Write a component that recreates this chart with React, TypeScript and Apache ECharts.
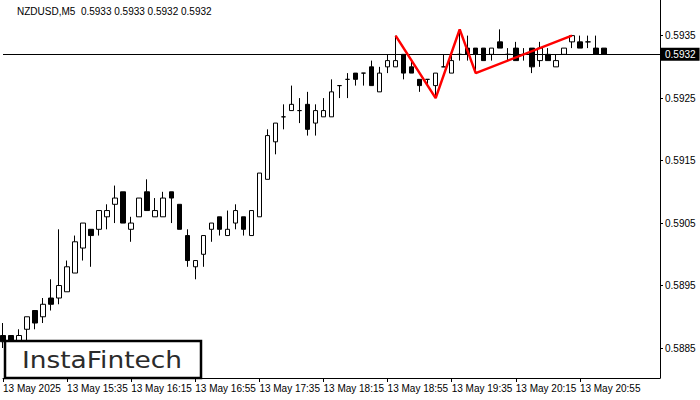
import React, { useEffect, useRef } from "react";
import * as echarts from "echarts";

const symbolTitle = "NZDUSD,M5  0.5933 0.5933 0.5932 0.5932";
const startHour = 14;
const startMinute = 55;
const slotCount = 83;
const lastLabelIndex = 72;
const dateLabel = "13 May 2025";
const dayPrefix = "13 May";

const opens = [0.5887,0.5887,0.5886,0.5888,0.5891,0.5890,0.5893,0.5893,0.5894,0.5897,
  0.5901,0.5904,0.5904,0.5906,0.5908,0.5910,0.5904,0.5906,0.5910,0.5906,
  0.5906,0.5910,0.5908,0.5903,0.5898,0.5900,0.5904,0.5906,0.5903,0.5905,
  0.5906,0.5903,0.5906,0.5912,0.5918,0.5922,0.5923,0.5923,0.5924,0.5921,
  0.5922,0.5922,0.5927,0.5928,0.5929,0.5929,0.5930,0.5926,0.5930,0.5930,
  0.5932,0.5930,0.5928,0.5928,0.5927,0.5930,0.5929,0.5932,0.5933,0.5933,
  0.5933,0.5932,0.5934,0.5932,0.5933,0.5932,0.5933,0.5931,0.5932,0.5930,
  0.5932,0.5934,0.5934,0.5934,0.5933,0.5933];
const closes = [0.5886,0.5886,0.5887,0.5890,0.5889,0.5892,0.5892,0.5895,0.5898,0.5902,
  0.5905,0.5903,0.5907,0.5907,0.5909,0.5905,0.5905,0.5909,0.5907,0.5907,
  0.5909,0.5909,0.5904,0.5899,0.5899,0.5903,0.5905,0.5904,0.5904,0.5907,
  0.5904,0.5907,0.5913,0.5919,0.5921,0.5922,0.5924,0.5923,0.5920,0.5923,
  0.5923,0.5926,0.5927,0.5928,0.5928,0.5929,0.5927,0.5929,0.5931,0.5931,
  0.5929,0.5929,0.5927,0.5928,0.5929,0.5930,0.5931,0.5932,0.5932,0.5932,
  0.5931,0.5933,0.5933,0.5932,0.5931,0.5932,0.5930,0.5933,0.5931,0.5931,
  0.5933,0.5935,0.5933,0.5934,0.5932,0.5932];
const highs = [0.5889,0.5887,0.5888,0.5890,0.5891,0.5893,0.5896,0.5904,0.5899,0.5903,
  0.5905,0.5904,0.5907,0.5908,0.5911,0.5910,0.5906,0.5909,0.5912,0.5909,
  0.5910,0.5910,0.5908,0.5904,0.5899,0.5903,0.5905,0.5906,0.5907,0.5908,
  0.5906,0.5907,0.5913,0.5920,0.5921,0.5924,0.5927,0.5925,0.5926,0.5924,
  0.5925,0.5928,0.5927,0.5929,0.5929,0.5929,0.5931,0.5930,0.5932,0.5935,
  0.5932,0.5931,0.5928,0.5928,0.5929,0.5932,0.5932,0.5936,0.5935,0.5933,
  0.5933,0.5933,0.5936,0.5933,0.5934,0.5933,0.5933,0.5934,0.5933,0.5932,
  0.5933,0.5935,0.5935,0.5935,0.5935,0.5933];
const lows = [0.5885,0.5886,0.5886,0.5886,0.5888,0.5889,0.5891,0.5892,0.5894,0.5897,
  0.5899,0.5898,0.5903,0.5904,0.5905,0.5905,0.5902,0.5906,0.5907,0.5906,
  0.5906,0.5905,0.5904,0.5898,0.5896,0.5898,0.5902,0.5903,0.5903,0.5904,
  0.5903,0.5903,0.5906,0.5912,0.5916,0.5920,0.5923,0.5921,0.5919,0.5919,
  0.5922,0.5922,0.5925,0.5925,0.5927,0.5927,0.5927,0.5926,0.5929,0.5930,
  0.5928,0.5929,0.5926,0.5927,0.5925,0.5930,0.5929,0.5931,0.5931,0.5929,
  0.5931,0.5931,0.5933,0.5931,0.5931,0.5931,0.5929,0.5930,0.5931,0.5930,
  0.5932,0.5933,0.5933,0.5933,0.5932,0.5932];

const patternIndex = [49, 54, 57, 59, 71];
const patternPrice = [0.5935, 0.5925, 0.5936, 0.5929, 0.5935];

const yTicks = [0.5885, 0.5895, 0.5905, 0.5915, 0.5925, 0.5935];
const currentPrice = 0.5932;
const yMin = 0.58802;
const yMax = 0.59407;

function buildCategories(): string[] {
  const out: string[] = [];
  for (let i = 0; i < slotCount; i++) {
    const t = startHour * 60 + startMinute + i * 5;
    const h = Math.floor(t / 60);
    const m = t % 60;
    out.push(`${String(h).padStart(2, "0")}:${String(m).padStart(2, "0")}`);
  }
  return out;
}

export default function App() {
  const ref = useRef<HTMLDivElement>(null);
  useEffect(() => {
    if (!ref.current) return;
    const chart = echarts.init(ref.current, undefined, { renderer: "svg" });
    const categories = buildCategories();
    const candles = opens.map((o, i) => [o, closes[i], lows[i], highs[i]]);
    const pattern = patternIndex.map((idx, k) => [idx, patternPrice[k]]);
    const labelInterval = (index: number) => index % 8 === 0 && index <= lastLabelIndex;
    const font = "'Liberation Sans', Arial, sans-serif";

    chart.setOption({
      animation: false,
      backgroundColor: "#ffffff",
      grid: { left: 3, right: 40, top: 0, bottom: 22, containLabel: false },
      xAxis: {
        type: "category",
        data: categories,
        boundaryGap: false,
        axisLine: { show: true, lineStyle: { color: "#000", width: 1 } },
        axisTick: { show: true, interval: labelInterval, length: 4, lineStyle: { color: "#000" } },
        axisLabel: {
          interval: labelInterval,
          align: "left",
          margin: 5,
          fontSize: 10,
          fontFamily: font,
          color: "#000",
          formatter: (value: string, index: number) =>
            index === 0 ? dateLabel : `${dayPrefix} ${value}`,
        },
        splitLine: { show: false },
      },
      yAxis: {
        type: "value",
        position: "right",
        min: yMin,
        max: yMax,
        scale: true,
        axisLine: { show: true, lineStyle: { color: "#000", width: 1 } },
        axisTick: { show: true, length: 3, customValues: yTicks, lineStyle: { color: "#000" } },
        axisLabel: {
          customValues: yTicks,
          margin: 5,
          fontSize: 10,
          fontFamily: font,
          color: "#000",
          formatter: (v: number) => v.toFixed(4),
        },
        splitLine: { show: false },
      },
      series: [
        {
          type: "candlestick",
          data: candles,
          barWidth: 5,
          clip: false,
          itemStyle: {
            color: "#ffffff",
            color0: "#000000",
            borderColor: "#000000",
            borderColor0: "#000000",
            borderWidth: 1,
          },
        },
        {
          type: "line",
          data: pattern,
          symbol: "none",
          lineStyle: { color: "#ff0000", width: 2.5 },
          z: 5,
          markLine: {
            silent: true,
            precision: 4,
            symbol: ["none", "none"],
            lineStyle: { color: "#000", width: 1, type: "solid" },
            label: {
              show: true,
              position: "end",
              distance: 1,
              formatter: () => currentPrice.toFixed(4),
              backgroundColor: "#000",
              color: "#fff",
              fontSize: 10,
              fontFamily: font,
              padding: [2, 4, 1, 4],
            },
            data: [{ yAxis: currentPrice }],
          },
        },
      ],
      graphic: [
        {
          type: "text",
          left: 17,
          top: 6,
          style: { text: symbolTitle, fontSize: 10, fontFamily: font, fill: "#000" },
        },
        {
          type: "rect",
          z: 100,
          shape: { x: 5, y: 341, width: 196, height: 37 },
          style: { fill: "#fff", stroke: "#000", lineWidth: 2.5 },
        },
        {
          type: "text",
          z: 101,
          x: 102,
          y: 360,
          scaleX: 1.15,
          style: {
            text: "InstaFintech",
            fontSize: 23,
            fontFamily: "'DejaVu Sans', sans-serif",
            fill: "#2b2b2b",
            align: "center",
            verticalAlign: "middle",
          },
        },
      ],
    });
    return () => chart.dispose();
  }, []);
  return (
    <div
      ref={ref}
      style={{ position: "fixed", left: 0, top: 0, width: 700, height: 400 }}
    />
  );
}
